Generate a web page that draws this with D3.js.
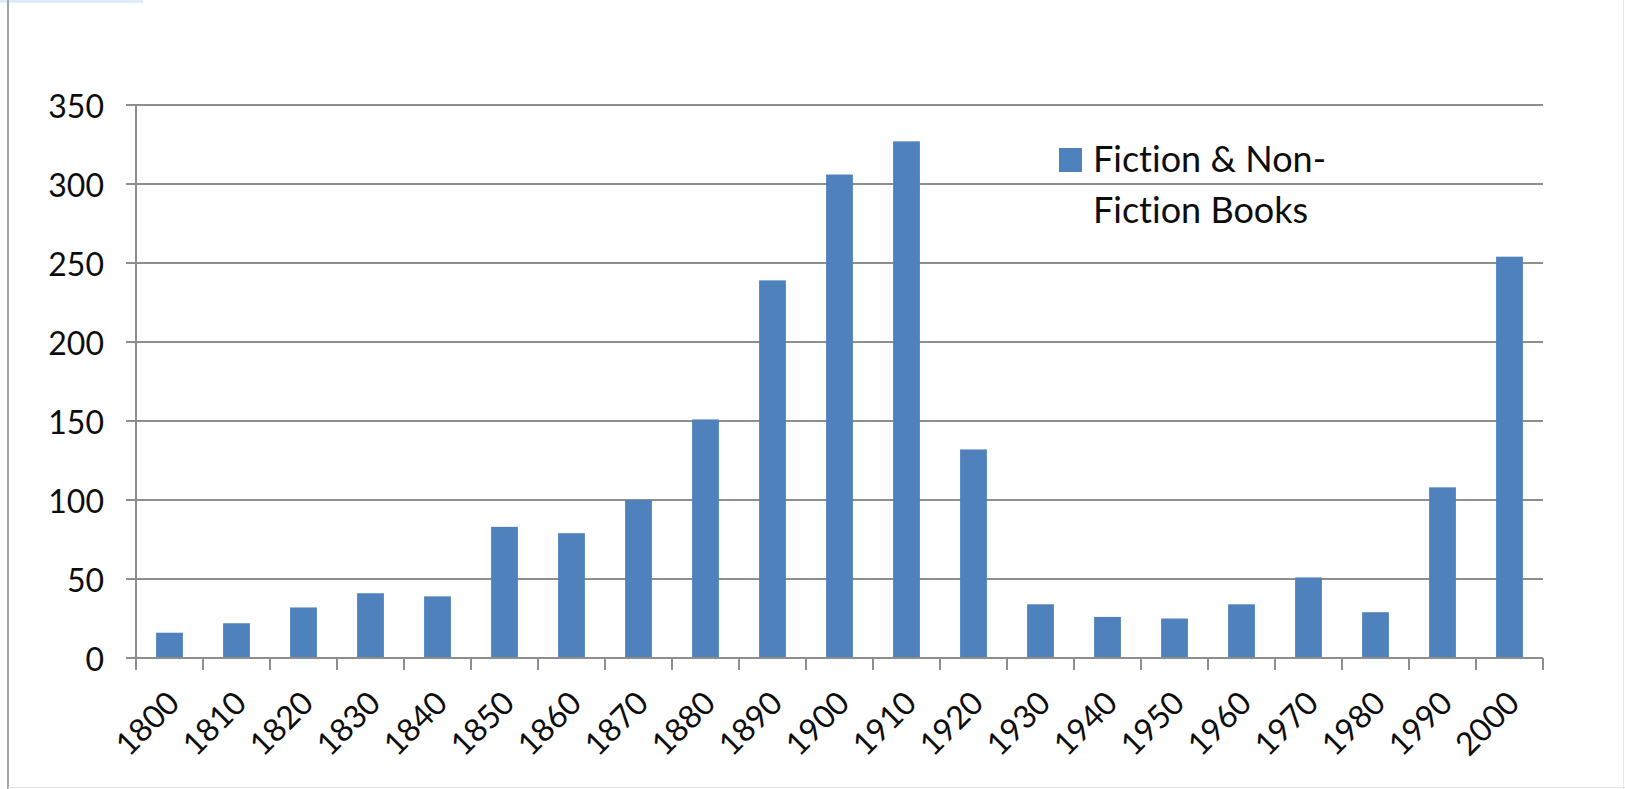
<!DOCTYPE html>
<html>
<head>
<meta charset="utf-8">
<script src="https://cdn.jsdelivr.net/npm/d3@7"></script>
<style>
  html, body { margin: 0; padding: 0; background: #fff; }
  svg { display: block; }
  text { font-family: Lato, "Open Sans", sans-serif; fill: #0d0d0d; font-variant-ligatures: none; font-feature-settings: "liga" 0, "clig" 0; }
</style>
</head>
<body>
<svg id="chart" width="1625" height="789"></svg>
<script>
const decades = ["1800","1810","1820","1830","1840","1850","1860","1870","1880","1890","1900","1910","1920","1930","1940","1950","1960","1970","1980","1990","2000"];
const books = [16, 22, 32, 41, 39, 83, 79, 100, 151, 239, 306, 327, 132, 34, 26, 25, 34, 51, 29, 108, 254];
const yTicks = [0, 50, 100, 150, 200, 250, 300, 350];
const seriesName = ["Fiction & Non-", "Fiction Books"];

const svg = d3.select("#chart");
const W = 1625, H = 789;
const mLeft = 136, mRight = 1543, mTop = 105, mBottom = 658;
const barColor = "#4f81bd";
const lineColor = "#8e8e8e";

// frame decorations
svg.append("rect").attr("x", 0).attr("y", 0).attr("width", 143).attr("height", 3).attr("fill", "#dcecfb");
svg.append("line").attr("x1", 8).attr("x2", 8).attr("y1", 0).attr("y2", H).attr("stroke", "#a8a8a8").attr("stroke-width", 2);
svg.append("line").attr("x1", 8).attr("x2", W).attr("y1", 787.5).attr("y2", 787.5).attr("stroke", "#e4e4e4").attr("stroke-width", 1);
svg.append("line").attr("x1", 1623.5).attr("x2", 1623.5).attr("y1", 0).attr("y2", H).attr("stroke", "#e8e8e8").attr("stroke-width", 1);

const x = d3.scaleBand().domain(decades).range([mLeft, mRight]).paddingInner(0.6).paddingOuter(0.3);
const y = d3.scaleLinear().domain([0, 350]).range([mBottom, mTop]);

// gridlines
svg.append("g").selectAll("line").data(yTicks).join("line")
  .attr("x1", mLeft - 10).attr("x2", mRight)
  .attr("y1", d => y(d)).attr("y2", d => y(d))
  .attr("stroke", lineColor).attr("stroke-width", 2);

// y labels
svg.append("g").selectAll("text").data(yTicks).join("text")
  .attr("x", 104).attr("y", d => y(d))
  .attr("text-anchor", "end").attr("dominant-baseline", "central")
  .attr("font-size", 32)
  .text(d => d);

// vertical axis
svg.append("line").attr("x1", mLeft).attr("x2", mLeft).attr("y1", mTop).attr("y2", mBottom + 12)
  .attr("stroke", lineColor).attr("stroke-width", 2);

// category boundary ticks
const bounds = d3.range(decades.length + 1).map(i => x.range()[0] + i * x.step());
svg.append("g").selectAll("line").data(bounds).join("line")
  .attr("x1", d => d).attr("x2", d => d)
  .attr("y1", mBottom).attr("y2", mBottom + 12)
  .attr("stroke", lineColor).attr("stroke-width", 2);

// bars
svg.append("g").selectAll("rect").data(decades).join("rect")
  .attr("x", d => x(d)).attr("width", x.bandwidth())
  .attr("y", (d, i) => y(books[i]))
  .attr("height", (d, i) => y(0) - y(books[i]))
  .attr("fill", barColor);

// x axis baseline (over bars)
svg.append("line").attr("x1", mLeft - 10).attr("x2", mRight).attr("y1", mBottom).attr("y2", mBottom)
  .attr("stroke", lineColor).attr("stroke-width", 2);

// x labels
svg.append("g").selectAll("text").data(decades).join("text")
  .attr("transform", d => `translate(${x(d) + x.bandwidth() / 2 + 12},${mBottom + 47}) rotate(-45)`)
  .attr("text-anchor", "end")
  .attr("font-size", 32)
  .text(d => d);

// legend
svg.append("rect").attr("x", 1059).attr("y", 148).attr("width", 23).attr("height", 24).attr("fill", barColor);
svg.append("g").selectAll("text").data(seriesName).join("text")
  .attr("x", 1093).attr("y", (d, i) => 172 + i * 51)
  .attr("font-size", 36)
  .text(d => d);
</script>
</body>
</html>
